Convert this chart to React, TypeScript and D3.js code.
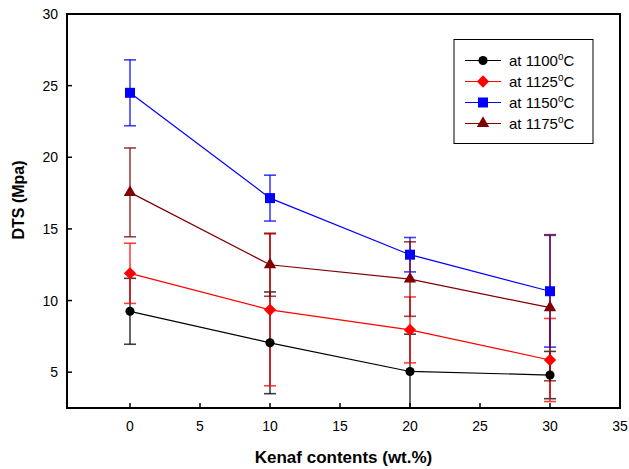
import React, { useRef, useEffect } from 'react';
import * as d3 from 'd3';

// Kenaf content (wt.%)
const kenaf = [0, 10, 20, 30];

const seriesNames = ['1100', '1125', '1150', '1175'];
const seriesColors = ['#000000', '#ff0000', '#0000ff', '#800000'];
const seriesShapes = ['circle', 'diamond', 'square', 'triangle'];

// DTS values (Mpa) and error bars
const dts1100 = [9.25, 7.05, 5.05, 4.8];
const err1100 = [2.3, 3.55, 2.6, 1.65];
const dts1125 = [11.9, 9.35, 7.95, 5.85];
const err1125 = [2.1, 5.3, 2.3, 2.9];
const dts1150 = [24.5, 17.15, 13.2, 10.65];
const err1150 = [2.3, 1.6, 1.2, 3.9];
const dts1175 = [17.55, 12.5, 11.5, 9.5];
const err1175 = [3.1, 2.2, 2.6, 5.1];

const xTicks = [0, 5, 10, 15, 20, 25, 30, 35];
const yTicks = [5, 10, 15, 20, 25, 30];

const App = () => {
  const ref = useRef<SVGSVGElement>(null);

  useEffect(() => {
    const root = d3.select(ref.current);
    root.selectAll('*').remove();

    const width = 629;
    const height = 469;
    const left = 67, right = 620, top = 14, bottom = 408;
    const font = 'Arial, "Liberation Sans", sans-serif';

    const values = [dts1100, dts1125, dts1150, dts1175];
    const errors = [err1100, err1125, err1150, err1175];

    const x = d3.scaleLinear().domain([-4.5, 35]).range([left, right]);
    const y = d3.scaleLinear().domain([2.5, 30]).range([bottom, top]);

    const svg = root.attr('width', width).attr('height', height);

    svg.append('defs').append('clipPath').attr('id', 'plot-clip')
      .append('rect')
      .attr('x', left).attr('y', top)
      .attr('width', right - left).attr('height', bottom - top);

    // x axis ticks (inward) and labels
    const xAxis = svg.append('g');
    xAxis.selectAll('line')
      .data(xTicks)
      .join('line')
      .attr('x1', d => x(d)).attr('x2', d => x(d))
      .attr('y1', bottom).attr('y2', bottom - 5)
      .attr('stroke', '#000').attr('stroke-width', 1.5);
    xAxis.selectAll('text')
      .data(xTicks)
      .join('text')
      .attr('x', d => x(d))
      .attr('y', bottom + 23)
      .attr('text-anchor', 'middle')
      .style('font-family', font)
      .style('font-size', '14px')
      .text(d => d);

    // y axis ticks (inward) and labels
    const yAxis = svg.append('g');
    yAxis.selectAll('line')
      .data(yTicks)
      .join('line')
      .attr('x1', left).attr('x2', left + 5)
      .attr('y1', d => y(d)).attr('y2', d => y(d))
      .attr('stroke', '#000').attr('stroke-width', 1.5);
    yAxis.selectAll('text')
      .data(yTicks)
      .join('text')
      .attr('x', left - 9)
      .attr('y', d => y(d) + 5)
      .attr('text-anchor', 'end')
      .style('font-family', font)
      .style('font-size', '14px')
      .text(d => d);

    // axis titles
    svg.append('text')
      .attr('x', (left + right) / 2)
      .attr('y', 463)
      .attr('text-anchor', 'middle')
      .style('font-family', font)
      .style('font-size', '17px')
      .style('font-weight', 'bold')
      .text('Kenaf contents (wt.%)');

    svg.append('text')
      .attr('transform', 'translate(24, 200) rotate(-90)')
      .attr('text-anchor', 'middle')
      .style('font-family', font)
      .style('font-size', '16px')
      .style('font-weight', 'bold')
      .text('DTS (Mpa)');

    const plot = svg.append('g').attr('clip-path', 'url(#plot-clip)');

    const markerPath = (shape: string) => {
      if (shape === 'circle') return d3.symbol().type(d3.symbolCircle).size(66)();
      if (shape === 'square') return d3.symbol().type(d3.symbolSquare).size(100)();
      if (shape === 'diamond') return d3.symbol().type(d3.symbolSquare).size(76)();
      return d3.symbol().type(d3.symbolTriangle).size(66)();
    };

    // error bars
    values.forEach((vals, i) => {
      const data = kenaf.map((k, j) => ({ k, v: vals[j], e: errors[i][j] }));
      const g = plot.append('g')
        .attr('stroke', seriesColors[i])
        .attr('stroke-opacity', 0.75)
        .attr('stroke-width', 1.6);
      g.selectAll('.bar')
        .data(data)
        .join('line')
        .attr('x1', d => x(d.k)).attr('x2', d => x(d.k))
        .attr('y1', d => y(d.v - d.e)).attr('y2', d => y(d.v + d.e));
      g.selectAll('.capTop')
        .data(data)
        .join('line')
        .attr('class', 'capTop')
        .attr('x1', d => x(d.k) - 6).attr('x2', d => x(d.k) + 6)
        .attr('y1', d => y(d.v + d.e)).attr('y2', d => y(d.v + d.e));
      g.selectAll('.capBottom')
        .data(data)
        .join('line')
        .attr('class', 'capBottom')
        .attr('x1', d => x(d.k) - 6).attr('x2', d => x(d.k) + 6)
        .attr('y1', d => y(d.v - d.e)).attr('y2', d => y(d.v - d.e));
    });

    // lines and markers
    values.forEach((vals, i) => {
      const line = d3.line<number>()
        .x((_, j) => x(kenaf[j]))
        .y(d => y(d));
      plot.append('path')
        .datum(vals)
        .attr('d', line)
        .attr('fill', 'none')
        .attr('stroke', seriesColors[i])
        .attr('stroke-width', 1.2);
      plot.selectAll(`.m${i}`)
        .data(vals)
        .join('path')
        .attr('class', `m${i}`)
        .attr('d', markerPath(seriesShapes[i]))
        .attr('transform', (d, j) =>
          `translate(${x(kenaf[j])},${y(d)})${seriesShapes[i] === 'diamond' ? ' rotate(45)' : ''}`)
        .attr('fill', seriesColors[i]);
    });

    // frame
    svg.append('rect')
      .attr('x', left).attr('y', top)
      .attr('width', right - left).attr('height', bottom - top)
      .attr('fill', 'none')
      .attr('stroke', '#000')
      .attr('stroke-width', 2);

    // legend
    const legend = svg.append('g');
    legend.append('rect')
      .attr('x', 454).attr('y', 39.5)
      .attr('width', 139).attr('height', 104)
      .attr('fill', '#fff')
      .attr('stroke', '#000')
      .attr('stroke-width', 1);

    seriesNames.forEach((name, i) => {
      const ly = 60.5 + i * 21;
      legend.append('line')
        .attr('x1', 465).attr('x2', 501)
        .attr('y1', ly).attr('y2', ly)
        .attr('stroke', seriesColors[i])
        .attr('stroke-width', 1.2);
      legend.append('path')
        .attr('d', markerPath(seriesShapes[i]))
        .attr('transform', `translate(483,${ly})${seriesShapes[i] === 'diamond' ? ' rotate(45)' : ''}`)
        .attr('fill', seriesColors[i]);
      const t = legend.append('text')
        .attr('x', 509)
        .attr('y', ly + 5)
        .style('font-family', font)
        .style('font-size', '15px');
      t.append('tspan').text(`at ${name}`);
      t.append('tspan').attr('dy', -6).style('font-size', '10px').text('o');
      t.append('tspan').attr('dy', 6).text('C');
    });
  }, []);

  return <svg ref={ref} style={{ position: 'absolute', left: 0, top: 0 }}></svg>;
};

export default App;
